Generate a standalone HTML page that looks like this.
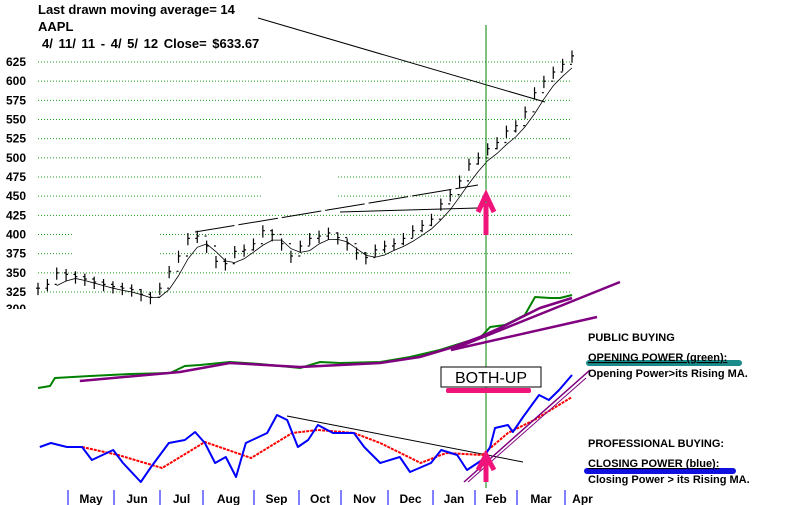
<!DOCTYPE html>
<html><head><meta charset="utf-8"><style>
body{margin:0;background:#fff;width:800px;height:505px;overflow:hidden}
svg{display:block}
text{font-family:"Liberation Sans",sans-serif;font-weight:bold;font-size:12px;fill:#000}
</style></head><body>
<svg id="c" width="800" height="505" xmlns="http://www.w3.org/2000/svg">
<defs><clipPath id="cl300"><rect x="0" y="303" width="40" height="6"/></clipPath></defs>
<text x="38" y="14" style="font-size:13px">Last drawn moving average= 14</text>
<text x="38" y="31" style="font-size:13px">AAPL</text>
<text x="42" y="48" style="word-spacing:2px;font-size:13px">4/ 11/ 11 -  4/ 5/ 12   Close= $633.67</text>
<g id="grid"></g><g id="marks"></g>
</svg>
<script>
const priceTicks=[625,600,575,550,525,500,475,450,425,400,375,350,325];
const months=["May","Jun","Jul","Aug","Sep","Oct","Nov","Dec","Jan","Feb","Mar","Apr"];
const weeklyClose=[330,335,350,348,345,342,338,335,332,330,328,322,318,330,352,372,395,398,385,365,362,378,380,388,405,400,388,372,385,395,398,402,396,388,376,370,380,385,388,395,405,412,420,440,452,470,492,500,512,520,535,542,560,585,600,612,622,633];
const cpT=[0.04,0.29,0.65,0.99,1.21,1.69,1.91,2.31,2.54,2.94,3.3,3.53,3.75,3.98,4.22,4.45,4.67,5.15,5.37,5.6,5.84,6.07,6.29,6.63,7.1,7.33,7.69,8.13,8.36,8.83,9.06,9.42,9.64,9.98,10.16,10.27,10.56,10.67,10.9,11.26,11.48,11.71,12];
const cpV=[33,37,33,33,20,30,17,-2,13,37,40,48,37,17,23,3,37,47,65,60,33,40,55,47,47,33,17,23,8,17,30,25,10,20,33,52,55,48,63,85,80,90,105];
const cpMaT=[0.99,1.8,2.79,3.75,4.79,5.71,6.29,7.1,7.69,8.6,9.17,9.98,10.56,11.15,12];
const cpMaV=[33,25,12,38,22,47,50,47,37,17,27,25,47,60,83];
const opT=[0,0.27,0.38,1.17,2.07,2.97,3.3,3.64,4.31,4.99,5.89,6.34,6.79,7.69,8.36,9.03,9.6,9.93,10.16,10.49,10.72,10.94,11.17,11.51,11.73,12];
const opV=[12,14,22,24,26,27,34,35,38,36,32,38,37,38,43,50,58,62,73,75,80,85,103,102,102,105];
const opMaT=[0.94,3.19,4.31,5.89,7.69,8.58,9.26,9.93,10.38,10.83,11.28,12];
const opMaV=[19,28,37,33,37,43,52,63,72,82,92,102];
const g=document.getElementById('grid'),m=document.getElementById('marks'),NS='http://www.w3.org/2000/svg';
const X0=38,X1=572;
function xT(t){return X0+(X1-X0)*t/12}
function yP(v){return 62+(625-v)*0.7667}
function yCP(v){return 480-v}
function yOP(v){return 400-v}
function el(tag,a,p){const e=document.createElementNS(NS,tag);for(const k in a)e.setAttribute(k,a[k]);(p||m).appendChild(e);return e}
priceTicks.forEach(v=>{
 const y=yP(v);
 const t=el('text',{x:6,y:y+4},g);t.textContent=v;
 
 
 let segs=[[X0,X1]];
 if(v==475||v==450)segs=[[X0,263],[338,X1]];
 if(v==400||v==375)segs=[[X0,72],[160,X1]];
 segs.forEach(s=>{const l=el('line',{x1:s[0],x2:s[1],y1:y,y2:y,stroke:'#1a9a1a','stroke-width':1,'stroke-dasharray':'1,2'},g);
 
 });
});
const t3=el('text',{x:6,y:313,'clip-path':'url(#cl300)'},g);t3.textContent='300';


const tickX=[68,114,160,203,254,299,341,388,433,475,517,565];
tickX.forEach((x,i)=>{
 const l=el('line',{x1:x,x2:x,y1:490,y2:505,stroke:'#00f','stroke-width':1},g);
 
 
 if(i<months.length){const nx=i<11?tickX[i+1]:600;const t=el('text',{x:(x+nx)/2,y:503,'text-anchor':'middle'},g);t.textContent=months[i];
 
 }
});
const n=weeklyClose.length;
function xW(i){return X0+(X1-X0)*i/(n-1)}
weeklyClose.forEach((c,i)=>{
 const x=xW(i),hi=c+7,lo=c-9,op=i?weeklyClose[i-1]:c;
 const b=el('path',{d:`M${x},${yP(hi)}V${yP(lo)}M${x-2},${yP(op)}H${x}M${x},${yP(c)}H${x+2}`,stroke:'#000','stroke-width':1.2,fill:'none'});
 
 
});
let ma=[];weeklyClose.forEach((c,i)=>{if(i>=2){const s=weeklyClose.slice(i-2,i+1);ma.push([xW(i),yP(s.reduce((a,b)=>a+b)/3-5)])}});
const mal=el('polyline',{points:ma.map(p=>p.join(',')).join(' '),fill:'none',stroke:'#000','stroke-width':0.8});


function line(x1,y1,x2,y2,c,w,name,extra){const l=el('line',Object.assign({x1,y1,x2,y2,stroke:c,'stroke-width':w},extra||{}));
 
 return l}
line(258,18,545,102,'#000',1,'resistance-trendline');
line(195,232,478,185,'#000',1,'upper-trendline',{'stroke-dasharray':'40,4'});
line(340,212,478,208,'#000',1,'lower-trendline');
line(486,25,486,488,'#008000',1,'signal-vertical-line');
function poly(ts,vs,ys,c,w,name,extra){const l=el('polyline',Object.assign({points:ts.map((t,i)=>xT(t)+','+ys(vs[i])).join(' '),fill:'none',stroke:c,'stroke-width':w,'stroke-linejoin':'round'},extra||{}));
 
 }
poly(opT,opV,yOP,'#008000',2,'opening-power-line');
poly(opMaT,opMaV,yOP,'#800080',2.5,'opening-power-ma');
line(451,350,620,282,'#800080',2.5,'op-trendline-1');
line(451,350,597,317,'#800080',2.5,'op-trendline-2');
line(287,416,523,462,'#000',1,'cp-downtrend-line');
poly(cpMaT,cpMaV,yCP,'#f00',2,'closing-power-ma',{'stroke-dasharray':'3,1'});
poly(cpT,cpV,yCP,'#00f',2,'closing-power-line');
line(464,482,590,370,'#800080',1.5,'cp-trendline');
line(468,482,586,378,'#800080',1,'cp-trendline-2');
const a1=el('path',{d:'M486,235V203M478,212L486,195L494,212',stroke:'#f0147a','stroke-width':5,fill:'none'});


const a2=el('path',{d:'M486,482V460M478,470L486,455L494,470',stroke:'#f0147a','stroke-width':5,fill:'none'});


const bx=el('rect',{x:441,y:367,width:100,height:20,fill:'#fff',stroke:'#000'});


const bt=el('text',{x:491,y:383,'text-anchor':'middle',style:'font-weight:normal;font-size:16px'});bt.textContent='BOTH-UP';


const pb=el('rect',{x:446,y:388,width:85,height:5,rx:2,fill:'#f0147a'});


const tb=el('rect',{x:586,y:360,width:156,height:6,rx:3,fill:'#1a8a8a'});


const bb=el('rect',{x:584,y:468,width:152,height:6,rx:3,fill:'#1010e0'});


const labels=[["PUBLIC BUYING",341,'public-buying-label',0],["OPENING POWER (green):",361,'opening-power-title',1],["Opening Power>its Rising MA.",377,'opening-power-note',0],["PROFESSIONAL BUYING:",447,'professional-buying-label',0],["CLOSING POWER (blue):",467,'closing-power-title',1],["Closing Power > its Rising MA.",483,'closing-power-note',0]];
labels.forEach(l=>{const t=el('text',{x:588,y:l[1],'text-decoration':l[3]?'underline':'none',style:'font-size:11px'});t.textContent=l[0];
 
 });
</script>
</body></html>
